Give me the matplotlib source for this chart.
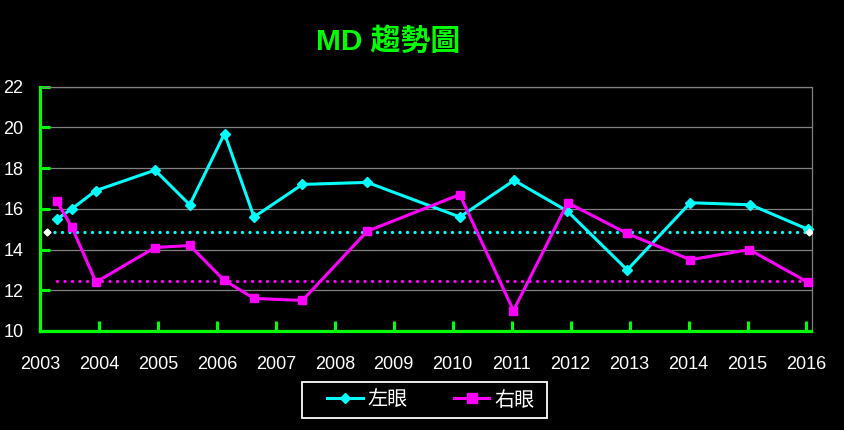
import matplotlib
matplotlib.use("Agg")
import matplotlib.pyplot as plt
from matplotlib.lines import Line2D
from matplotlib.patches import Rectangle

# ---- data ----
left_x = [2003.29, 2003.54, 2003.95, 2004.95, 2005.54, 2006.13, 2006.63, 2007.45,
          2008.55, 2010.12, 2011.04, 2011.94, 2012.96, 2014.03, 2015.05, 2016.02]
left_y = [15.5, 16.0, 16.9, 17.9, 16.2, 19.7, 15.6, 17.2,
          17.3, 15.6, 17.4, 15.9, 13.0, 16.3, 16.2, 15.0]
right_x = [2003.28, 2003.54, 2003.95, 2004.95, 2005.54, 2006.12, 2006.63, 2007.45,
           2008.55, 2010.12, 2011.03, 2011.95, 2012.95, 2014.03, 2015.03, 2016.02]
right_y = [16.4, 15.1, 12.4, 14.1, 14.2, 12.5, 11.6, 11.5,
           14.9, 16.7, 11.0, 16.3, 14.8, 13.5, 14.0, 12.4]
left_ref_x = [2003.12, 2016.05]
left_ref_y = [14.86, 14.86]
right_ref_x = [2003.29, 2016.02]
right_ref_y = [12.47, 12.47]
year_ticks = list(range(2003, 2017))
y_ticks = [10, 12, 14, 16, 18, 20, 22]
title = "MD 趨勢圖"
labels = ["左眼", "右眼"]

num_font = "Liberation Sans"

CYAN = "#00ffff"
MAG = "#ff00ff"
GREEN = "#00ff00"

fig = plt.figure(figsize=(8.45, 4.3), dpi=100, facecolor="black")
ax = fig.add_axes([40/845, 1-331/430, (811.5-40)/845, (331-86.7)/430], facecolor="black")

ax.set_xlim(2003, 2016.085)
ax.set_ylim(10, 22)

for yv in y_ticks[1:]:
    ax.axhline(yv, color="#808080", lw=0.9, zorder=1)

dots = (0, (0.01, 2.24))
ax.plot(left_ref_x, left_ref_y, color=CYAN, lw=2.4, linestyle=dots,
        dash_capstyle="round", zorder=2)
ax.plot(left_ref_x, left_ref_y, linestyle="none", marker="D", ms=3.5, color="white",
        markeredgecolor="white", zorder=5)
ax.plot(right_ref_x, right_ref_y, color=MAG, lw=2.4, linestyle=dots,
        dash_capstyle="round", zorder=2)

ax.plot(left_x, left_y, color=CYAN, lw=2.2, marker="D", ms=5.5, markeredgecolor=CYAN,
        zorder=3, clip_on=False)
ax.plot(right_x, right_y, color=MAG, lw=2.2, marker="s", ms=6, markeredgecolor=MAG,
        zorder=4, clip_on=False)

for s in ["top", "right"]:
    ax.spines[s].set_color("#808080")
    ax.spines[s].set_linewidth(0.9)
for s in ["left", "bottom"]:
    ax.spines[s].set_color(GREEN)
    ax.spines[s].set_linewidth(2.3)
    ax.spines[s].set_zorder(6)

ax.set_xticks(year_ticks)
ax.set_xticklabels([str(y) for y in year_ticks])
ax.set_yticks(y_ticks)
ax.set_yticklabels([str(v) for v in y_ticks])
ax.tick_params(axis="both", direction="in", color=GREEN, width=2.2, length=7,
               labelcolor="white", labelsize=13)
ax.tick_params(axis="x", pad=18)
ax.tick_params(axis="y", pad=12)
for lab in ax.get_xticklabels() + ax.get_yticklabels():
    lab.set_fontfamily(num_font)

fig.text(388.5/845, 1-41.5/430, title, color=GREEN, fontsize=21.5, fontweight="bold",
         ha="center", va="center", family=["Liberation Sans", "Noto Sans CJK TC"])

# legend frame drawn as a figure rectangle
fig.patches.append(Rectangle((302/845, 1-418/430), (547-302)/845, (418-382)/430,
                             transform=fig.transFigure, facecolor="black",
                             edgecolor="white", lw=1.3, zorder=1))
handles = [Line2D([], [], color=CYAN, lw=2.2, marker="D", ms=5),
           Line2D([], [], color=MAG, lw=2.2, marker="s", ms=7)]
leg = fig.legend(handles, labels, loc="center", bbox_to_anchor=(431/845, 1-400/430),
                 ncol=2, frameon=False, labelcolor="white",
                 prop={"family": ["Noto Sans CJK TC"], "size": 14.5},
                 handlelength=1.75, columnspacing=2.3, borderpad=0.2, handletextpad=0.25)
leg.set_zorder(3)

fig.savefig("out.png", dpi=100, facecolor="black")
